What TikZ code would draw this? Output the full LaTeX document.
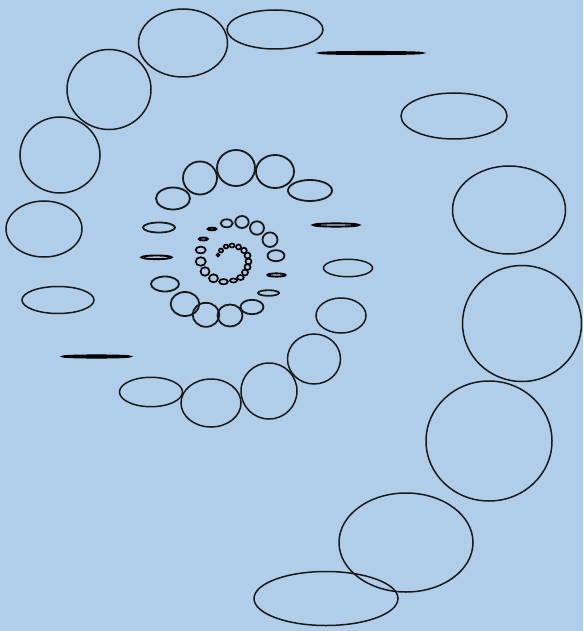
\documentclass[tikz,border=0pt]{standalone}
\definecolor{bg}{RGB}{176,206,234}
\begin{document}
\begin{tikzpicture}[x=1pt,y=-1pt,
  ring/.style={draw=black!90, line width=1.5pt},
  thin ring/.style={draw=black!90, line width=1.8pt},
  flat/.style={draw=black, line width=1.9pt},
  tiny/.style={draw=black, line width=1.7pt}]
\fill[bg] (0,0) rectangle (583,631);
\useasboundingbox (0,0) rectangle (583,631);
% outer ring of the spiral
\foreach \cx/\cy/\rx/\ry in {
  326/598.5/72/27, 406/542.5/67/49.5, 489/441/63/60, 522/323.5/59.5/58,
  509/210/56.5/44, 454/116/53/23, 275/29.5/48/19.5, 183/43/44.5/34,
  109/89.5/42/40, 60/155/40/38, 44/229/38/28, 58/300/36/13.5,
  151/392/31.5/14.7, 211/403/30/24, 269/391/28/28, 314/359/26.5/25,
  341/315.5/25/17.5, 348/268/24.5/8.7}
  \draw[ring] (\cx,\cy) ellipse [x radius=\rx, y radius=\ry];
% edge-on discs
\foreach \cx/\cy/\rx/\ry in {
  371/53/51/1.1, 96.5/356.5/33.5/1.1, 336/225/22.7/1.6,
  156.5/257.3/15/1.8, 276.5/275/9/1.6, 212/229/4.3/1.3, 203.3/239/4.5/1.5}
  \draw[flat] (\cx,\cy) ellipse [x radius=\rx, y radius=\ry];
% middle ring
\foreach \cx/\cy/\rx/\ry in {
  310/190.5/22/10.5, 275/171.5/19/16.5, 236/168/19/18, 200/178/17/16.5,
  173/198.5/17/11, 159/227.5/16/5, 165/284/14/7.5, 185/304/14.3/12,
  206/314.8/13.3/12, 230/315.5/12.5/11, 252/307/11.5/7.2, 268.5/293/10.5/2.8,
  276/255.7/8.5/5.5, 270/239.7/7.5/7.3, 257/228/7/6.7, 242/222/6.7/6,
  226.7/223.3/6/4}
  \draw[thin ring] (\cx,\cy) ellipse [x radius=\rx, y radius=\ry];
% inner ring
\foreach \cx/\cy/\rx/\ry in {
  200.7/250/5/3.4, 200.7/261.5/5/4.3, 205/271.5/4.5/4.3, 213.5/278.3/4.5/4,
  223.5/281.7/4.3/2.7, 233.5/280.5/3.5/2, 240.5/277.5/3.3/2.5, 245/272.5/3/3,
  247.5/267/3/3, 248.5/261.5/3/3, 247.5/255.5/3/3, 244/250.5/2.8/2.8,
  238.5/247/2.5/2.5, 232/245.5/2.5/2, 226/246.5/2.2/2, 221/250.5/2/2,
  218/255/1.5/1.5}
  \draw[tiny] (\cx,\cy) ellipse [x radius=\rx, y radius=\ry];
\end{tikzpicture}
\end{document}
